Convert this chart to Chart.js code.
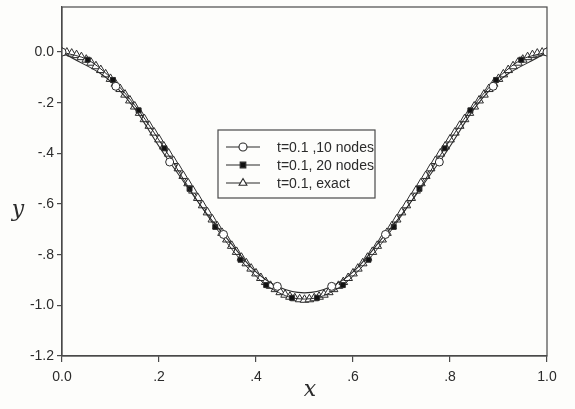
<!DOCTYPE html>
<html>
<head>
<meta charset="utf-8">
<script src="https://cdn.jsdelivr.net/npm/chart.js@4.4.1/dist/chart.umd.min.js"></script>
<style>
  html, body { margin: 0; padding: 0; background: #fdfdfb; }
  #wrap { width: 575px; height: 409px; }
</style>
</head>
<body>
<div id="wrap"><canvas id="beamChart" width="575" height="409"></canvas></div>
<script>
const seriesLabels = ["t=0.1 ,10 nodes", "t=0.1, 20 nodes", "t=0.1, exact"];

const nodes10X = [0, 0.111, 0.222, 0.333, 0.444, 0.556, 0.667, 0.778, 0.889, 1];
const nodes10Y = [0, -0.135, -0.434, -0.72, -0.925, -0.925, -0.72, -0.434, -0.135, 0];

const nodes20X = [0, 0.053, 0.105, 0.158, 0.211, 0.263, 0.316, 0.368, 0.421, 0.474,
                  0.526, 0.579, 0.632, 0.684, 0.737, 0.789, 0.842, 0.895, 0.947, 1];
const nodes20Y = [0, -0.03, -0.11, -0.23, -0.38, -0.54, -0.69, -0.82, -0.92, -0.97,
                  -0.97, -0.92, -0.82, -0.69, -0.54, -0.38, -0.23, -0.11, -0.03, 0];

const exactX = [
  0, 0.01, 0.02, 0.03, 0.04, 0.05, 0.06, 0.07, 0.08, 0.09,
  0.10, 0.11, 0.12, 0.13, 0.14, 0.15, 0.16, 0.17, 0.18, 0.19,
  0.20, 0.21, 0.22, 0.23, 0.24, 0.25, 0.26, 0.27, 0.28, 0.29,
  0.30, 0.31, 0.32, 0.33, 0.34, 0.35, 0.36, 0.37, 0.38, 0.39,
  0.40, 0.41, 0.42, 0.43, 0.44, 0.45, 0.46, 0.47, 0.48, 0.49,
  0.50, 0.51, 0.52, 0.53, 0.54, 0.55, 0.56, 0.57, 0.58, 0.59,
  0.60, 0.61, 0.62, 0.63, 0.64, 0.65, 0.66, 0.67, 0.68, 0.69,
  0.70, 0.71, 0.72, 0.73, 0.74, 0.75, 0.76, 0.77, 0.78, 0.79,
  0.80, 0.81, 0.82, 0.83, 0.84, 0.85, 0.86, 0.87, 0.88, 0.89,
  0.90, 0.91, 0.92, 0.93, 0.94, 0.95, 0.96, 0.97, 0.98, 0.99, 1
];
const exactY = [
  0, -0.002, -0.006, -0.012, -0.020, -0.030, -0.042, -0.056, -0.071, -0.088,
  -0.106, -0.125, -0.146, -0.168, -0.191, -0.215, -0.240, -0.265, -0.291, -0.318,
  -0.345, -0.373, -0.401, -0.430, -0.459, -0.489, -0.518, -0.547, -0.576, -0.605,
  -0.633, -0.661, -0.688, -0.714, -0.740, -0.765, -0.789, -0.812, -0.834, -0.855,
  -0.874, -0.892, -0.908, -0.923, -0.936, -0.948, -0.958, -0.966, -0.972, -0.976,
  -0.978, -0.976, -0.972, -0.966, -0.958, -0.948, -0.936, -0.923, -0.908, -0.892,
  -0.874, -0.855, -0.834, -0.812, -0.789, -0.765, -0.740, -0.714, -0.688, -0.661,
  -0.633, -0.605, -0.576, -0.547, -0.518, -0.489, -0.459, -0.430, -0.401, -0.373,
  -0.345, -0.318, -0.291, -0.265, -0.240, -0.215, -0.191, -0.168, -0.146, -0.125,
  -0.106, -0.088, -0.071, -0.056, -0.042, -0.030, -0.020, -0.012, -0.006, -0.002, 0
];

const xTicks = [0, 0.2, 0.4, 0.6, 0.8, 1.0];
const yTicks = [0, -0.2, -0.4, -0.6, -0.8, -1.0, -1.2];

const INK = "#2b2b2b";
const AXIS = "#4a4a4a";

function toPoints(xs, ys) { return xs.map((x, i) => ({ x, y: ys[i] })); }

function tickText(v) {
  if (Math.abs(v) < 1e-9) return "0.0";
  const s = Number(v).toFixed(1);
  return s.replace(/^(-?)0\./, "$1.");
}

// background + frame + axis titles
const framePlugin = {
  id: "frame",
  beforeDraw(chart) {
    const { ctx, width, height } = chart;
    ctx.save();
    ctx.fillStyle = "#fdfdfb";
    ctx.fillRect(0, 0, width, height);
    ctx.restore();
  },
  afterDraw(chart) {
    const { ctx, chartArea: a } = chart;
    ctx.save();
    ctx.strokeStyle = AXIS;
    ctx.lineWidth = 1.2;
    ctx.strokeRect(a.left, a.top, a.right - a.left, a.bottom - a.top);

    ctx.fillStyle = INK;
    ctx.font = "italic 22px 'DejaVu Serif', 'Liberation Serif', serif";
    ctx.textAlign = "center";
    ctx.textBaseline = "middle";
    ctx.fillText("y", 18, 210);
    ctx.fillText("x", 310, 390);
    ctx.restore();
  }
};

// legend box drawn inside the plot
const legendPlugin = {
  id: "boxLegend",
  afterDraw(chart) {
    const { ctx } = chart;
    const box = { left: 218, top: 130, right: 375, bottom: 198 };
    const rowsY = [147, 165, 183];
    ctx.save();
    ctx.fillStyle = "#fdfdfb";
    ctx.fillRect(box.left, box.top, box.right - box.left, box.bottom - box.top);
    ctx.strokeStyle = AXIS;
    ctx.lineWidth = 1.2;
    ctx.strokeRect(box.left, box.top, box.right - box.left, box.bottom - box.top);

    chart.data.datasets.slice().sort((a, b) => a.legendRow - b.legendRow).forEach((ds, i) => {
      const y = rowsY[i];
      ctx.strokeStyle = INK;
      ctx.lineWidth = 1.2;
      ctx.beginPath();
      ctx.moveTo(226, y);
      ctx.lineTo(260, y);
      ctx.stroke();
      ctx.fillStyle = ds.pointBackgroundColor;
      ctx.strokeStyle = INK;
      ctx.lineWidth = 1.1;
      Chart.helpers.drawPoint(ctx, {
        pointStyle: ds.pointStyle,
        radius: ds.legendRadius,
        borderWidth: 1.1
      }, 243, y);
      ctx.fillStyle = INK;
      ctx.font = "14px 'Liberation Sans', Arial, sans-serif";
      ctx.textAlign = "left";
      ctx.textBaseline = "middle";
      ctx.fillText(ds.label, 277, y + 1);
    });
    ctx.restore();
  }
};

const ctx = document.getElementById("beamChart").getContext("2d");

new Chart(ctx, {
  type: "line",
  data: {
    datasets: [
      {
        label: seriesLabels[2], legendRow: 2, order: 3, legendRadius: 4.5,
        data: toPoints(exactX, exactY),
        borderColor: INK, borderWidth: 1, tension: 0,
        pointStyle: "triangle", pointRadius: 5,
        pointBackgroundColor: "#ffffff", pointBorderColor: INK, pointBorderWidth: 1
      },
      {
        label: seriesLabels[1], legendRow: 1, order: 2, legendRadius: 4,
        data: toPoints(nodes20X, nodes20Y),
        borderColor: INK, borderWidth: 1, tension: 0.3,
        pointStyle: "rect", pointRadius: 3.5,
        pointBackgroundColor: "#111111", pointBorderColor: INK, pointBorderWidth: 1
      },
      {
        label: seriesLabels[0], legendRow: 0, order: 1, legendRadius: 4,
        data: toPoints(nodes10X, nodes10Y),
        borderColor: INK, borderWidth: 1.1, tension: 0.4,
        pointStyle: "circle", pointRadius: 4,
        pointBackgroundColor: "#ffffff", pointBorderColor: INK, pointBorderWidth: 1
      }
    ]
  },
  options: {
    responsive: false,
    animation: false,
    layout: { padding: { left: 0, right: 28, top: 7, bottom: 0 } },
    plugins: { legend: { display: false }, tooltip: { enabled: false } },
    scales: {
      x: {
        type: "linear", min: 0, max: 1,
        afterFit: s => { s.height = 53; s.paddingLeft = 0; s.paddingRight = 0; },
        afterBuildTicks: s => { s.ticks = xTicks.map(v => ({ value: v })); },
        grid: { display: true, drawOnChartArea: false, drawTicks: true, tickLength: 6, color: AXIS, lineWidth: 1.2 },
        border: { display: true, color: AXIS, width: 1.2 },
        ticks: {
          color: INK, padding: 7,
          font: { family: "'Liberation Sans', Arial, sans-serif", size: 14 },
          callback: v => tickText(v)
        }
      },
      y: {
        type: "linear", min: -1.2, max: 0.178,
        afterFit: s => { s.width = 62; s.paddingTop = 0; s.paddingBottom = 0; },
        afterBuildTicks: s => { s.ticks = yTicks.map(v => ({ value: v })); },
        grid: { display: true, drawOnChartArea: false, drawTicks: true, tickLength: 5, color: AXIS, lineWidth: 1.2 },
        border: { display: true, color: AXIS, width: 1.2 },
        ticks: {
          color: INK, padding: 3,
          font: { family: "'Liberation Sans', Arial, sans-serif", size: 14 },
          callback: v => tickText(v)
        }
      }
    }
  },
  plugins: [framePlugin, legendPlugin]
});
</script>
</body>
</html>
